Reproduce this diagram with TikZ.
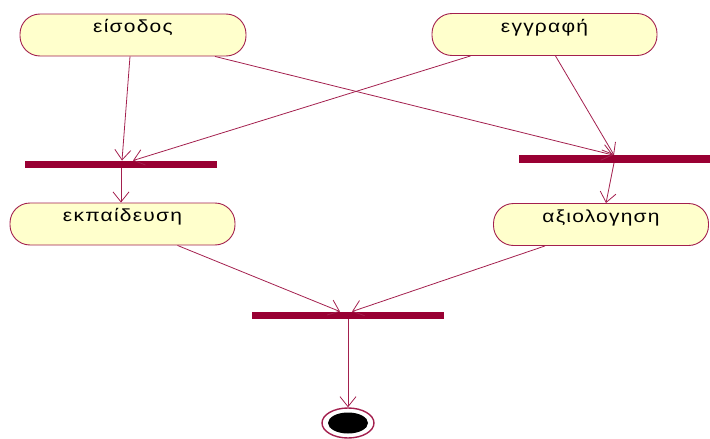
\documentclass[tikz,border=0pt]{standalone}
\usepackage{fontspec}
\setmainfont{Liberation Sans}
\newfontfamily\grfont[FakeStretch=1.2, LetterSpace=7]{Liberation Sans}
\usetikzlibrary{arrows.meta,calc,shapes.geometric}
\definecolor{edgecol}{HTML}{A3204E}
\definecolor{barcol}{HTML}{990033}
\definecolor{boxfill}{HTML}{FFFFCC}
\tikzset{
  activity/.style={draw=edgecol, line width=0.9pt, fill=boxfill,
    rounded corners=20pt, minimum height=42pt, inner sep=0pt,
    text depth=17pt, text height=12pt, font=\grfont\fontsize{17.5}{19}\selectfont},
  syncbar/.style={fill=barcol, draw=none, minimum height=7.5pt, inner sep=0pt},
  flow/.style={draw=edgecol, line width=0.8pt,
    -{Straight Barb[length=10pt, width=16pt, line width=0.8pt]}},
}
\begin{document}
\begin{tikzpicture}[x=1pt, y=-1pt]
  \useasboundingbox (0,0) rectangle (710,439);
  % activities
  \node[activity, minimum width=226pt] (in)  at (133,35)    {είσοδος};
  \node[activity, minimum width=225pt] (reg) at (544.5,34.5) {εγγραφή};
  \node[activity, minimum width=225pt] (ekp) at (122.5,224) {εκπαίδευση};
  \node[activity, minimum width=215pt] (axi) at (601,224.5) {αξιολογηση};
  % synchronisation bars
  \node[syncbar, minimum width=192pt] (bar1) at (121,164.5) {};
  \node[syncbar, minimum width=194pt] (bar2) at (616,159) {};
  \node[syncbar, minimum width=192pt] (bar3) at (348,315.5) {};
  % final state
  \node[draw=edgecol, line width=1.4pt, ellipse, minimum width=52pt, minimum height=30pt, inner sep=0pt] (end) at (348,423) {};
  \fill[black] (end.center) ellipse [x radius=20pt, y radius=10.5pt];
  % transitions
  \draw[flow] ($(in.south)+(-3,0)$) -- ($(bar1.north)+(1,0)$);
  \draw[flow] ($(in.south)+(82,0)$) -- ($(bar2.north)+(-3,0)$);
  \draw[flow] ($(reg.south)+(-74,0)$) -- ($(bar1.north)+(12,0)$);
  \draw[flow] ($(reg.south)+(11,0)$) -- ($(bar2.north)+(-2,0)$);
  \draw[flow] ($(bar1.south)+(0,0)$) -- ($(ekp.north)+(-1.5,0)$);
  \draw[flow] ($(bar2.south)+(-2,0)$) -- ($(axi.north)+(5,0)$);
  \draw[flow] ($(ekp.south)+(55,0)$) -- ($(bar3.north)+(-8,0)$);
  \draw[flow] ($(axi.south)+(-56,0)$) -- ($(bar3.north)+(4,0)$);
  \draw[flow] (bar3.south) -- (end.north);
\end{tikzpicture}
\end{document}
